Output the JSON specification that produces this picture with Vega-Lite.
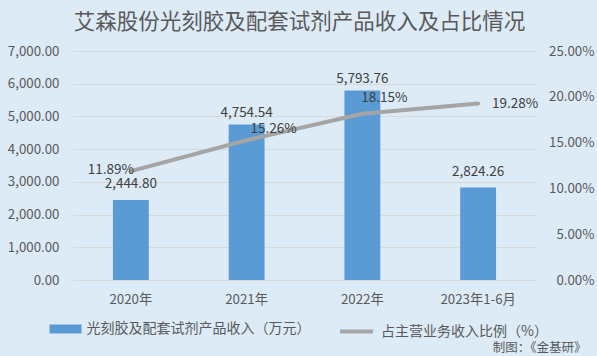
{
  "$schema": "https://vega.github.io/schema/vega-lite/v6.json",
  "width": 463,
  "height": 229,
  "autosize": {"type": "none"},
  "padding": {"left": 73, "top": 51, "right": 61, "bottom": 76},
  "background": "#DDEBF7",
  "config": {
    "font": "Noto Sans CJK SC",
    "view": {"stroke": null},
    "axis": {"labelColor": "#595959", "labelFontSize": 13.3, "ticks": false, "domain": false, "tickSize": 0}
  },
  "title": {
    "text": "艾森股份光刻胶及配套试剂产品收入及占比情况",
    "fontSize": 21.5,
    "fontWeight": "normal",
    "color": "#595959",
    "anchor": "middle",
    "dx": -5,
    "offset": 11
  },
  "data": {
    "values": [
      {"year": "2020年", "amount": 2444.80, "pct": 0.1189},
      {"year": "2021年", "amount": 4754.54, "pct": 0.1526},
      {"year": "2022年", "amount": 5793.76, "pct": 0.1815},
      {"year": "2023年1-6月", "amount": 2824.26, "pct": 0.1928}
    ]
  },
  "encoding": {
    "x": {
      "field": "year",
      "type": "nominal",
      "sort": null,
      "scale": {"paddingInner": 0.69, "paddingOuter": 0.345},
      "axis": {
        "title": "制图：《金基研》",
        "titleFontSize": 12.5,
        "titleFontWeight": "normal",
        "titleColor": "#595959",
        "titleAnchor": null,
        "titleAlign": "right",
        "titleBaseline": "middle",
        "titleX": 513,
        "titleY": 67,
        "labelAngle": 0,
        "labelPadding": 12,
        "labelBaseline": "top",
        "labelFontSize": 13.3,
        "grid": false
      }
    }
  },
  "layer": [
    {
      "encoding": {
        "y": {
          "field": "amount",
          "type": "quantitative",
          "scale": {"domain": [0, 7000], "nice": false},
          "axis": {
            "orient": "left",
            "title": null,
            "values": [0, 1000, 2000, 3000, 4000, 5000, 6000, 7000],
            "format": ",.2f",
            "labelPadding": 14,
            "grid": true,
            "gridColor": "#D9D9D9",
            "gridWidth": 1
          }
        }
      },
      "layer": [
        {
          "mark": {"type": "bar", "color": "#5B9BD5"},
          "encoding": {
            "color": {
              "datum": "光刻胶及配套试剂产品收入（万元）",
              "scale": {"range": ["#5B9BD5"]},
              "legend": {
                "title": null,
                "orient": "none",
                "legendX": -23.5,
                "legendY": 262,
                "padding": 0,
                "symbolType": "M-1,-0.28H1V0.28H-1Z",
                "symbolSize": 1024,
                "symbolStrokeWidth": 0,
                "labelOffset": 5,
                "labelFontSize": 14,
                "labelColor": "#595959",
                "labelLimit": 400
              }
            }
          }
        },
        {
          "transform": [{"filter": "datum.year == '2021年' || datum.year == '2022年'"}],
          "mark": {"type": "text", "baseline": "middle", "dy": -11, "fontSize": 13.5, "color": "#404040"},
          "encoding": {"text": {"field": "amount", "type": "quantitative", "format": ",.2f"}}
        },
        {
          "transform": [{"filter": "datum.year == '2020年' || datum.year == '2023年1-6月'"}],
          "mark": {"type": "text", "baseline": "middle", "dy": -16, "fontSize": 13.5, "color": "#404040"},
          "encoding": {"text": {"field": "amount", "type": "quantitative", "format": ",.2f"}}
        }
      ]
    },
    {
      "encoding": {
        "y": {
          "field": "pct",
          "type": "quantitative",
          "scale": {"domain": [0, 0.25], "nice": false},
          "axis": {
            "orient": "right",
            "title": null,
            "values": [0, 0.05, 0.1, 0.15, 0.2, 0.25],
            "format": ".2%",
            "labelAlign": "right",
            "labelPadding": 58,
            "grid": false
          }
        },
        "text": {"field": "pct", "type": "quantitative", "format": ".2%"}
      },
      "layer": [
        {
          "mark": {"type": "line", "strokeWidth": 4, "strokeCap": "round", "strokeJoin": "round"},
          "encoding": {
            "stroke": {
              "datum": "占主营业务收入比例（%）",
              "scale": {"range": ["#A5A5A5"]},
              "legend": {
                "title": null,
                "orient": "none",
                "legendX": 265,
                "legendY": 262,
                "padding": 0,
                "symbolType": "stroke",
                "symbolSize": 1089,
                "symbolStrokeWidth": 4,
                "labelOffset": 6,
                "labelFontSize": 14,
                "labelColor": "#595959",
                "labelLimit": 400
              }
            }
          }
        },
        {
          "transform": [{"filter": "datum.year == '2020年'"}],
          "mark": {"type": "text", "baseline": "middle", "dx": -20, "dy": -1, "fontSize": 13.5, "color": "#404040"}
        },
        {
          "transform": [{"filter": "datum.year == '2021年'"}],
          "mark": {"type": "text", "baseline": "middle", "dx": 27, "dy": -11, "fontSize": 13.5, "color": "#404040"}
        },
        {
          "transform": [{"filter": "datum.year == '2022年'"}],
          "mark": {"type": "text", "baseline": "middle", "dx": 22, "dy": -15.5, "fontSize": 13.5, "color": "#404040"}
        },
        {
          "transform": [{"filter": "datum.year == '2023年1-6月'"}],
          "mark": {"type": "text", "baseline": "middle", "dx": 37, "dy": 0.5, "fontSize": 13.5, "color": "#404040"}
        }
      ]
    }
  ],
  "resolve": {"scale": {"y": "independent"}}
}
